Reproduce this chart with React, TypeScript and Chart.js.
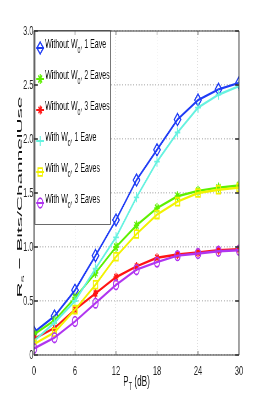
import React, { useEffect, useRef } from 'react';
import { Chart, registerables } from 'chart.js';
import { drawPoint } from 'chart.js/helpers';

Chart.register(...registerables);

// ---------- data ----------
const powerDb = [0, 3, 6, 9, 12, 15, 18, 21, 24, 27, 30];
const without1Eave = [0.21, 0.36, 0.6, 0.92, 1.25, 1.62, 1.9, 2.18, 2.36, 2.46, 2.52];
const without2Eaves = [0.19, 0.32, 0.53, 0.76, 1.0, 1.2, 1.36, 1.47, 1.52, 1.55, 1.57];
const without3Eaves = [0.15, 0.25, 0.42, 0.57, 0.72, 0.82, 0.9, 0.93, 0.95, 0.97, 0.98];
const with1Eave = [0.13, 0.3, 0.5, 0.8, 1.09, 1.46, 1.79, 2.06, 2.29, 2.41, 2.49];
const with2Eaves = [0.1, 0.21, 0.42, 0.65, 0.91, 1.12, 1.3, 1.42, 1.5, 1.53, 1.55];
const with3Eaves = [0.06, 0.16, 0.31, 0.48, 0.65, 0.79, 0.86, 0.92, 0.94, 0.96, 0.97];

const seriesLabels = [
  'Without W_0, 1 Eave',
  'Without W_0, 2 Eaves',
  'Without W_0, 3 Eaves',
  'With W_0, 1 Eave',
  'With W_0, 2 Eaves',
  'With W_0, 3 Eaves',
];
const xTickValues = [0, 6, 12, 18, 24, 30];
const yTickValues = [0, 0.5, 1, 1.5, 2, 2.5, 3];
const xTitle = 'P_T (dB)';
const yTitle = 'R_s \u2212 Bits/ChannelUse';

// ---------- styles ----------
const seriesValues = [without1Eave, without2Eaves, without3Eaves, with1Eave, with2Eaves, with3Eaves];
const colors = ['#1f3cf5', '#5ef000', '#ff1414', '#66f2e0', '#f2f200', '#b035f0'];
const pointStyles = ['rectRot', 'star', 'star', 'cross', 'rect', 'circle'];
const pointRadii = [6, 5, 4.5, 5, 5.5, 4.8];

const S = 0.55; // horizontal squash
const W = 480;
const H = 409;
const FONT = "'Liberation Sans', Arial, Helvetica, sans-serif";

function drawRich(ctx: CanvasRenderingContext2D, text: string, x: number, y: number, size: number, subSize: number, drop: number, align: 'left' | 'center') {
  const parts: { t: string; sub: boolean }[] = [];
  let buf = '';
  for (let i = 0; i < text.length; i++) {
    if (text[i] === '_' && i + 1 < text.length) {
      if (buf) parts.push({ t: buf, sub: false });
      buf = '';
      parts.push({ t: text[i + 1], sub: true });
      i++;
    } else buf += text[i];
  }
  if (buf) parts.push({ t: buf, sub: false });
  const widths = parts.map((p) => {
    ctx.font = `${p.sub ? subSize : size}px ${FONT}`;
    return ctx.measureText(p.t).width;
  });
  const total = widths.reduce((a, b) => a + b, 0);
  let cx = align === 'center' ? x - total / 2 : x;
  ctx.textAlign = 'left';
  ctx.textBaseline = 'alphabetic';
  parts.forEach((p, i) => {
    ctx.font = `${p.sub ? subSize : size}px ${FONT}`;
    ctx.fillText(p.t, cx, p.sub ? y + drop : y);
    cx += widths[i];
  });
}

function line(ctx: CanvasRenderingContext2D, x1: number, y1: number, x2: number, y2: number) {
  ctx.beginPath();
  ctx.moveTo(x1, y1);
  ctx.lineTo(x2, y2);
  ctx.stroke();
}

const decorPlugin = {
  id: 'matlabDecor',
  afterDatasetsDraw(chart: any) {
    const ctx: CanvasRenderingContext2D = chart.ctx;
    const { top } = chart.chartArea;
    // legend box
    const bx = 63.5, by = top - 0.5, bw = 137.5, bh = 194;
    ctx.save();
    ctx.fillStyle = '#ffffff';
    ctx.fillRect(bx, by, bw, bh);
    ctx.strokeStyle = '#6a6a6a';
    ctx.lineWidth = 1;
    line(ctx, bx, by, bx + bw, by);
    line(ctx, bx, by + bh, bx + bw, by + bh);
    ctx.lineWidth = 1.8;
    line(ctx, bx, by, bx, by + bh);
    line(ctx, bx + bw, by, bx + bw, by + bh);
    chart.data.datasets.forEach((ds: any, i: number) => {
      const cy = by + 17.5 + i * 31;
      const mx = 73;
      ctx.strokeStyle = ds.borderColor;
      ctx.lineWidth = 2;
      line(ctx, mx - 7, cy, mx + 7, cy);
      ctx.fillStyle = 'rgba(0,0,0,0)';
      ctx.lineWidth = 1.8;
      drawPoint(ctx, { pointStyle: ds.pointStyle, radius: ds.pointRadius, rotation: 0, borderWidth: 1.8 } as any, mx, cy);
      ctx.fillStyle = '#111';
      drawRich(ctx, ds.label, 82, cy, 12.8, 9, 5, 'left');
    });
    ctx.restore();
  },
  afterDraw(chart: any) {
    const ctx: CanvasRenderingContext2D = chart.ctx;
    const { left, right, top, bottom } = chart.chartArea;
    const xs = chart.scales.x;
    const ys = chart.scales.y;
    ctx.save();
    ctx.strokeStyle = '#333';
    ctx.lineWidth = 1;
    xTickValues.forEach((v) => {
      const px = xs.getPixelForValue(v);
      line(ctx, px, bottom, px, bottom - 4);
      line(ctx, px, top, px, top + 4);
    });
    ctx.lineWidth = 1.6;
    yTickValues.forEach((v) => {
      const py = ys.getPixelForValue(v);
      line(ctx, left, py, left + 7, py);
      line(ctx, right, py, right - 7, py);
    });
    // axes box
    ctx.strokeStyle = '#3a3a3a';
    ctx.lineWidth = 1;
    line(ctx, left, top, right, top);
    line(ctx, left, bottom, right, bottom);
    ctx.lineWidth = 1.8;
    line(ctx, left, top, left, bottom);
    line(ctx, right, top, right, bottom);

    // x title
    ctx.fillStyle = '#111';
    drawRich(ctx, xTitle, (left + right) / 2, 386, 15, 10.5, 4, 'center');

    // y title (rotated, stretched along its length)
    ctx.save();
    ctx.translate(40, 197);
    ctx.rotate(-Math.PI / 2);
    ctx.scale(1.6, 1);
    drawRich(ctx, yTitle, 0, 0, 13, 9, 4, 'center');
    ctx.restore();
    ctx.restore();
  },
};

export default function App() {
  const ref = useRef<HTMLCanvasElement>(null);
  useEffect(() => {
    if (!ref.current) return;
    const chart = new Chart(ref.current, {
      type: 'line',
      data: {
        datasets: seriesValues.map((vals, i) => ({
          label: seriesLabels[i],
          data: powerDb.map((p, j) => ({ x: p, y: vals[j] })),
          borderColor: colors[i],
          backgroundColor: 'rgba(0,0,0,0)',
          borderWidth: 2.4,
          pointStyle: pointStyles[i] as any,
          pointRadius: pointRadii[i],
          pointBorderWidth: 1.8,
          pointBorderColor: colors[i],
          pointBackgroundColor: 'rgba(0,0,0,0)',
          tension: 0,
          order: 5 - i,
        })),
      },
      options: {
        responsive: false,
        animation: false,
        events: [],
        layout: { padding: { left: 0, right: 45.5, top: 31, bottom: 0 } },
        plugins: { legend: { display: false }, tooltip: { enabled: false } },
        scales: {
          x: {
            type: 'linear',
            min: 0,
            max: 30,
            afterBuildTicks: (scale: any) => {
              scale.ticks = xTickValues.map((v) => ({ value: v }));
            },
            afterFit: (scale: any) => {
              scale.height = 54;
            },
            ticks: { padding: 8, maxRotation: 0, color: '#222', font: { size: 13.5, family: FONT } },
            grid: { color: '#c4c4c4', drawTicks: false, lineWidth: 1 },
            border: { display: false, dash: [1, 2] },
          },
          y: {
            type: 'linear',
            min: 0,
            max: 3,
            afterBuildTicks: (scale: any) => {
              scale.ticks = yTickValues.map((v) => ({ value: v }));
            },
            afterFit: (scale: any) => {
              scale.width = 61.8;
            },
            ticks: { padding: 1, color: '#222', font: { size: 13.5, family: FONT } },
            grid: { color: '#c4c4c4', drawTicks: false, lineWidth: 1.4 },
            border: { display: false, dash: [2, 3] },
          },
        },
      },
      plugins: [decorPlugin],
    } as any);
    return () => chart.destroy();
  }, []);
  return (
    <div style={{ position: 'absolute', left: 0, top: 0, width: 264, height: 409, overflow: 'hidden', background: '#fff' }}>
      <div style={{ position: 'absolute', left: 0, top: 0, width: W, height: H, transform: `scaleX(${S})`, transformOrigin: '0 0' }}>
        <canvas ref={ref} width={W} height={H} style={{ display: 'block', width: W, height: H }} />
      </div>
    </div>
  );
}
